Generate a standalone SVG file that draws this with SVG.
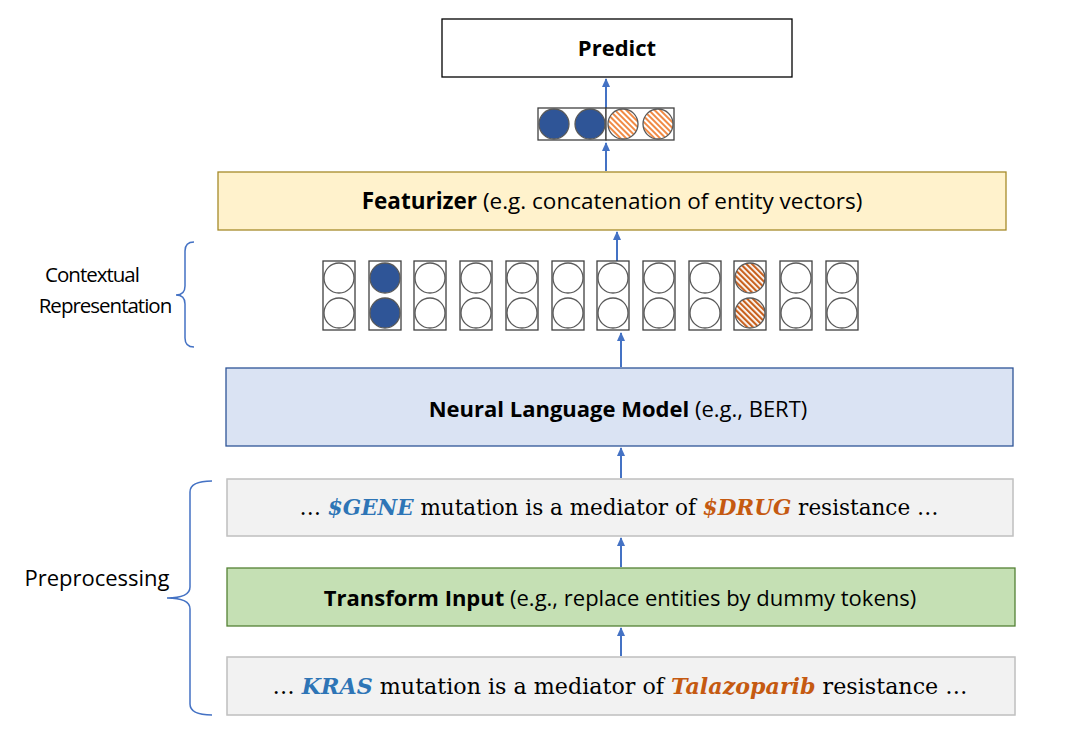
<svg xmlns="http://www.w3.org/2000/svg" width="1070" height="746" viewBox="0 0 1070 746">
<style>
.lbl{font-family:"Open Sans","Noto Sans",sans-serif;font-size:22px;fill:#000}
.side{font-size:20.5px;letter-spacing:-1px}
.b{font-weight:bold}
.ser{font-family:"DejaVu Serif","Liberation Serif",serif;font-size:21.5px;fill:#000}
.gene{fill:#2E75B6;font-weight:bold;font-style:italic}
.drug{fill:#C55A11;font-weight:bold;font-style:italic}
.conn{stroke:#4472C4;stroke-width:2;fill:none}
.brace{stroke:#4472C4;stroke-width:1.5;fill:none}
.cell{fill:#fff;stroke:#404040;stroke-width:1.3}
.c{stroke:#595959;stroke-width:1.3;fill:#fff}
.blue{fill:#2F5597}
.hat{fill:url(#hatch)}
.hat2{fill:url(#hatch2)}
</style>
<defs>
<pattern id="hatch" patternUnits="userSpaceOnUse" width="4" height="4" patternTransform="rotate(-45)">
<rect width="4" height="4" fill="#fff"/>
<rect width="2" height="4" fill="#F08A45"/>
</pattern>
<pattern id="hatch2" patternUnits="userSpaceOnUse" width="4" height="4" patternTransform="rotate(-45)">
<rect width="4" height="4" fill="#fff"/>
<rect width="2.2" height="4" fill="#C8601E"/>
</pattern>
<marker id="ah" markerWidth="10" markerHeight="10" refX="8" refY="5" orient="auto" markerUnits="userSpaceOnUse">
<path d="M0,1 L9,5 L0,9 Z" fill="#4472C4"/>
</marker>
</defs>
<rect width="1070" height="746" fill="#fff"/>

<g id="connectors">
<line class="conn" x1="606" y1="108" x2="606" y2="79" marker-end="url(#ah)"/>
<line class="conn" x1="606" y1="171" x2="606" y2="143" marker-end="url(#ah)"/>
<line class="conn" x1="617" y1="261" x2="617" y2="232" marker-end="url(#ah)"/>
<line class="conn" x1="621" y1="367" x2="621" y2="333" marker-end="url(#ah)"/>
<line class="conn" x1="621" y1="478" x2="621" y2="448" marker-end="url(#ah)"/>
<line class="conn" x1="621" y1="567" x2="621" y2="538" marker-end="url(#ah)"/>
<line class="conn" x1="621" y1="656" x2="621" y2="628" marker-end="url(#ah)"/>
</g>

<g id="predict">
<rect x="442" y="19" width="350" height="58" fill="#fff" stroke="#000" stroke-width="1.3"/>
<text class="lbl b" x="617" y="56" text-anchor="middle">Predict</text>
</g>

<g id="feature-vector">
<rect class="cell" x="538" y="108" width="68" height="32"/>
<rect class="cell" x="606" y="108" width="68" height="32"/>
<circle class="c blue" cx="554" cy="124" r="15"/>
<circle class="c blue" cx="590" cy="124" r="15"/>
<circle class="c hat" cx="623" cy="124" r="15"/>
<circle class="c hat" cx="658" cy="124" r="15"/>
</g>

<g id="featurizer">
<rect x="218" y="172" width="788" height="58" fill="#FFF2CC" stroke="#A68A2A" stroke-width="1.3"/>
<text class="lbl" x="612" y="209" text-anchor="middle" style="font-size:22.5px"><tspan class="b">Featurizer</tspan> (e.g. concatenation of entity vectors)</text>
</g>

<g id="contextual-representation">
<g>
<rect class="cell" x="323" y="261" width="32" height="69"/><circle class="c" cx="339" cy="278" r="15"/><circle class="c" cx="339" cy="313" r="15"/>
<rect class="cell" x="369" y="261" width="32" height="69"/><circle class="c blue" cx="385" cy="278" r="15"/><circle class="c blue" cx="385" cy="313" r="15"/>
<rect class="cell" x="414" y="261" width="32" height="69"/><circle class="c" cx="430" cy="278" r="15"/><circle class="c" cx="430" cy="313" r="15"/>
<rect class="cell" x="460" y="261" width="32" height="69"/><circle class="c" cx="476" cy="278" r="15"/><circle class="c" cx="476" cy="313" r="15"/>
<rect class="cell" x="506" y="261" width="32" height="69"/><circle class="c" cx="522" cy="278" r="15"/><circle class="c" cx="522" cy="313" r="15"/>
<rect class="cell" x="552" y="261" width="32" height="69"/><circle class="c" cx="568" cy="278" r="15"/><circle class="c" cx="568" cy="313" r="15"/>
<rect class="cell" x="597" y="261" width="32" height="69"/><circle class="c" cx="613" cy="278" r="15"/><circle class="c" cx="613" cy="313" r="15"/>
<rect class="cell" x="643" y="261" width="32" height="69"/><circle class="c" cx="659" cy="278" r="15"/><circle class="c" cx="659" cy="313" r="15"/>
<rect class="cell" x="689" y="261" width="32" height="69"/><circle class="c" cx="705" cy="278" r="15"/><circle class="c" cx="705" cy="313" r="15"/>
<rect class="cell" x="734" y="261" width="32" height="69"/><circle class="c hat2" cx="750" cy="278" r="15"/><circle class="c hat2" cx="750" cy="313" r="15"/>
<rect class="cell" x="780" y="261" width="32" height="69"/><circle class="c" cx="796" cy="278" r="15"/><circle class="c" cx="796" cy="313" r="15"/>
<rect class="cell" x="826" y="261" width="32" height="69"/><circle class="c" cx="842" cy="278" r="15"/><circle class="c" cx="842" cy="313" r="15"/>
</g>
<path class="brace" d="M194,242 Q185,242 185,251 L185,286 Q185,295 176,295 Q185,295 185,304 L185,338 Q185,347 194,347"/>
<text class="lbl side" x="92" y="282" text-anchor="middle">Contextual</text>
<text class="lbl side" x="105" y="313" text-anchor="middle">Representation</text>
</g>

<g id="neural-lm">
<rect x="226" y="368" width="787" height="78" fill="#DAE3F3" stroke="#2F5597" stroke-width="1.3"/>
<text class="lbl" x="618" y="417" text-anchor="middle"><tspan class="b">Neural Language Model</tspan> (e.g., BERT)</text>
</g>

<g id="dummy-text">
<rect x="227" y="479" width="786" height="57" fill="#F2F2F2" stroke="#BFBFBF" stroke-width="1.5"/>
<text class="ser" x="619" y="515" text-anchor="middle">… <tspan class="gene">$GENE</tspan> mutation is a mediator of <tspan class="drug">$DRUG</tspan> resistance  …</text>
</g>

<g id="transform-input">
<rect x="227" y="568" width="788" height="58" fill="#C5E0B4" stroke="#548235" stroke-width="1.3"/>
<text class="lbl" x="620" y="606" text-anchor="middle"><tspan class="b">Transform Input</tspan> (e.g., replace entities by dummy tokens)</text>
</g>

<g id="raw-text">
<rect x="227" y="657" width="788" height="58" fill="#F2F2F2" stroke="#BFBFBF" stroke-width="1.5"/>
<text class="ser" x="620" y="694" text-anchor="middle" style="font-size:22.2px">… <tspan class="gene">KRAS</tspan> mutation is a mediator of <tspan class="drug">Talazoparib</tspan> resistance  …</text>
</g>

<g id="preprocessing">
<path class="brace" d="M212,481 Q190,481 190,492 L190,587 Q190,598 167,598 Q190,598 190,609 L190,704 Q190,715 212,715"/>
<text class="lbl" x="97" y="586" text-anchor="middle">Preprocessing</text>
</g>
</svg>
